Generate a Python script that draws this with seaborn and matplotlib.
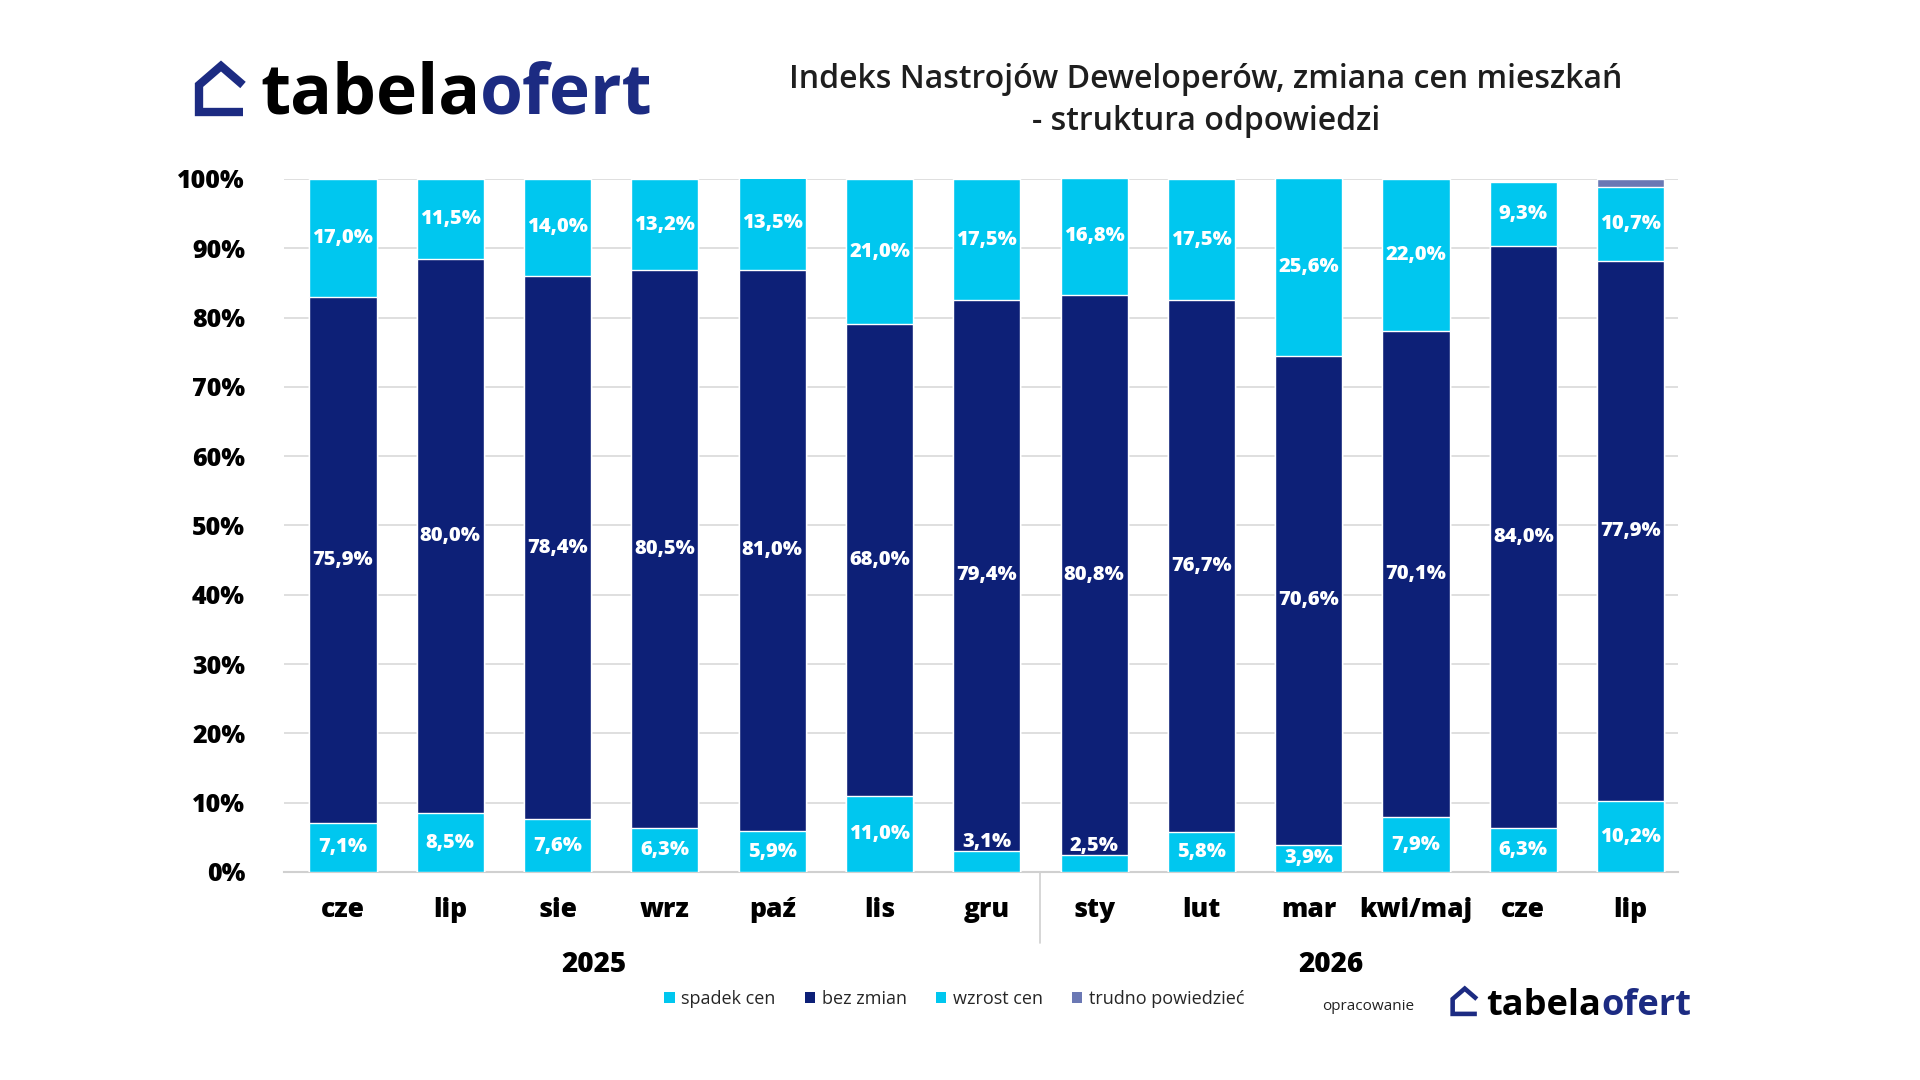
import numpy as np
import pandas as pd
import matplotlib
matplotlib.use("Agg")
import matplotlib.pyplot as plt
from matplotlib.patches import Patch
from matplotlib.lines import Line2D
import matplotlib.transforms as mtransforms
import seaborn as sns

# data
months = ["cze", "lip", "sie", "wrz", "paź", "lis", "gru",
          "sty", "lut", "mar", "kwi/maj", "cze", "lip"]
years = ["2025", "2026"]
spadek = [7.1, 8.5, 7.6, 6.3, 5.9, 11.0, 3.1, 2.5, 5.8, 3.9, 7.9, 6.3, 10.2]
bez_zmian = [75.9, 80.0, 78.4, 80.5, 81.0, 68.0, 79.4, 80.8, 76.7, 70.6, 70.1, 84.0, 77.9]
wzrost = [17.0, 11.5, 14.0, 13.2, 13.5, 21.0, 17.5, 16.8, 17.5, 25.6, 22.0, 9.3, 10.7]
trudno = [0, 0, 0, 0, 0, 0, 0, 0, 0, 0, 0, 0, 1.2]
series_names = ["spadek cen", "bez zmian", "wzrost cen", "trudno powiedzieć"]

CYAN = "#00C7EF"
NAVY = "#0D2077"
SLATE = "#6B78B4"
LOGO_NAVY = "#1C2B82"

df = pd.DataFrame({"pos": np.arange(len(months)), "spadek": spadek,
                   "bez": bez_zmian, "wzrost": wzrost, "trudno": trudno})
df["c1"] = df["spadek"]
df["c2"] = df["c1"] + df["bez"]
df["c3"] = df["c2"] + df["wzrost"]
df["c4"] = df["c3"] + df["trudno"]

sns.set_theme(style="white")
plt.rcParams["font.family"] = ["Open Sans", "DejaVu Sans"]

fig = plt.figure(figsize=(19.2, 10.8), dpi=100)
ax = fig.add_axes([0.1479, 0.1926, 0.726, 0.6417])

# stacked bars drawn as overlapping cumulative layers
for col, colr in [("c4", SLATE), ("c3", CYAN), ("c2", NAVY), ("c1", CYAN)]:
    sns.barplot(data=df, x="pos", y=col, color=colr, width=0.626,
                saturation=1, ax=ax, zorder=3)

ax.set_ylim(0, 100)
ax.set_xlim(-0.55, 12.44)
ax.set_yticks(np.arange(0, 101, 10))
ax.set_yticklabels([f"{v}%" for v in range(0, 101, 10)],
                   fontsize=18, fontweight="heavy", color="black")
ax.set_xticks(df["pos"])
ax.set_xticklabels(months, fontsize=19, fontweight="heavy", color="black")
ax.tick_params(axis="y", pad=28, length=0)
ax.tick_params(axis="x", pad=18, length=0)
ax.set_xlabel("")
ax.set_ylabel("")
ax.grid(axis="y", color="#D9D9D9", linewidth=1.2, zorder=0)
ax.set_axisbelow(True)
for s in ["top", "right", "left"]:
    ax.spines[s].set_visible(False)
ax.spines["bottom"].set_color("#D0D0D0")
ax.spines["bottom"].set_linewidth(1.5)

# value labels
lab_kw = dict(ha="center", va="center", color="white", fontsize=14.5,
              fontweight="heavy", zorder=5)
for i in range(len(months)):
    y1 = spadek[i] / 2 if spadek[i] >= 3.5 else spadek[i] + 1.2
    ax.text(i, y1, f"{spadek[i]:.1f}%".replace(".", ","), **lab_kw)
    ax.text(i, spadek[i] + bez_zmian[i] / 2,
            f"{bez_zmian[i]:.1f}%".replace(".", ","), **lab_kw)
    ax.text(i, spadek[i] + bez_zmian[i] + wzrost[i] / 2,
            f"{wzrost[i]:.1f}%".replace(".", ","), **lab_kw)

# year separator and year labels
trans = mtransforms.blended_transform_factory(ax.transData, ax.transAxes)
ax.add_line(Line2D([6.5, 6.5], [0, -0.102], transform=trans, color="#D0D0D0",
                   linewidth=1.2, clip_on=False))
ax.text(2.34, -0.133, years[0], transform=trans, ha="center", va="center",
        fontsize=20, fontweight="heavy", color="black")
ax.text(9.21, -0.133, years[1], transform=trans, ha="center", va="center",
        fontsize=20, fontweight="heavy", color="black")

# legend
handles = [Patch(facecolor=c, edgecolor="none") for c in [CYAN, NAVY, CYAN, SLATE]]
fig.legend(handles, series_names, loc="center", bbox_to_anchor=(0.497, 0.075),
           ncol=4, frameon=False, fontsize=13, handlelength=0.6,
           handleheight=0.6, handletextpad=0.35, columnspacing=1.6)

# title
fig.text(1206 / 1920, 1 - 80 / 1080, "Indeks Nastrojów Deweloperów, zmiana cen mieszkań",
         ha="center", va="center", fontsize=23, fontweight="semibold", color="#1E1E1E")
fig.text(1206 / 1920, 1 - 121 / 1080, "- struktura odpowiedzi",
         ha="center", va="center", fontsize=23, fontweight="semibold", color="#1E1E1E")


def draw_logo(x0, y_base, size, scale):
    # house icon + wordmark, pixel coords from top-left
    px = lambda x, y: (x / 1920, 1 - y / 1080)
    pts = [(44, -29), (22, -48), (0, -29), (0, -2), (44, -2)]
    xs, ys = zip(*[px(x0 + 3 * scale + a * scale, y_base + b * scale) for a, b in pts])
    fig.add_artist(Line2D(xs, ys, color=LOGO_NAVY, linewidth=6 * scale,
                          solid_joinstyle="miter", solid_capstyle="butt"))
    t = fig.text(*px(x0 + 64 * scale, y_base), "tabela", ha="left", va="baseline",
                 fontsize=size, fontweight="bold", color="black")
    fig.canvas.draw()
    bb = t.get_window_extent()
    fig.text(bb.x1 / 1920, 1 - y_base / 1080, "ofert", ha="left", va="baseline",
             fontsize=size, fontweight="bold", color=LOGO_NAVY)


draw_logo(196, 114, 50, 1.0)
fig.text(1368 / 1920, 1 - 1006 / 1080, "opracowanie", ha="center", va="center",
         fontsize=11, color="#222222")
draw_logo(1451, 1015, 26, 0.55)

fig.savefig("out.png", dpi=100, facecolor="white")
